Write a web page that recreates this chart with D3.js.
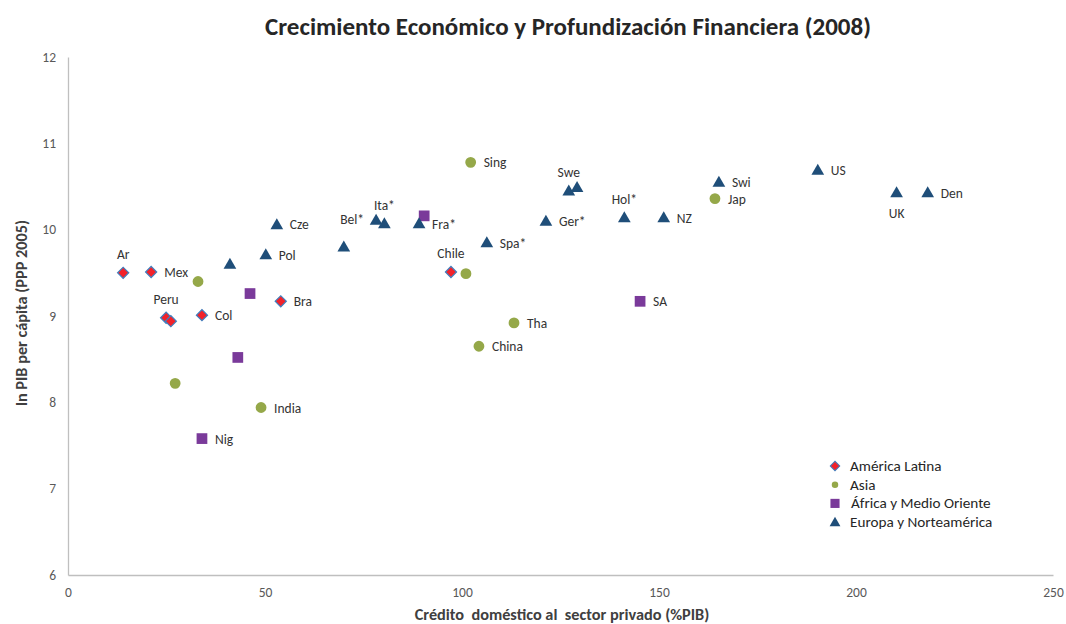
<!DOCTYPE html>
<html lang="es">
<head>
<meta charset="utf-8">
<title>Crecimiento Económico y Profundización Financiera (2008)</title>
<script src="https://cdn.jsdelivr.net/npm/d3@7/dist/d3.min.js"></script>
<style>
  body { margin: 0; background: #fff; }
  svg { font-family: Carlito, Lato, "Open Sans", sans-serif; }
</style>
</head>
<body>
<svg id="chart" width="1066" height="624"></svg>
<script>
// credito domestico al sector privado (%PIB) vs ln PIB per capita
let latam_names = ['Ar', 'Mex', 'Peru', '', 'Col', 'Bra', 'Chile'];
let latam_x = [14.0, 21.1, 24.9, 26.1, 34.0, 54.0, 97.2];
let latam_y = [9.50, 9.51, 8.98, 8.94, 9.01, 9.17, 9.51];

let asia_names = ['', '', 'India', 'Sing', '', 'Tha', 'China', 'Jap'];
let asia_x = [33.0, 27.2, 49.0, 102.2, 101.0, 113.2, 104.3, 164.2];
let asia_y = [9.40, 8.22, 7.94, 10.78, 9.49, 8.92, 8.65, 10.36];

let africa_names = ['', '', 'Nig', '', 'SA'];
let africa_x = [46.2, 43.1, 34.0, 90.4, 145.2];
let africa_y = [9.26, 8.52, 7.58, 10.16, 9.17];

let europe_names = ['Cze', '', 'Pol', '', 'Bel*', 'Ita*', 'Fra*', 'Spa*', 'Ger*', 'Swe', '', 'Hol*', 'NZ', 'Swi', 'US', 'UK', 'Den'];
let europe_x = [53.0, 41.1, 50.2, 70.0, 78.2, 80.3, 89.1, 106.3, 121.3, 127.1, 129.2, 141.2, 151.2, 165.2, 190.3, 210.3, 218.2];
let europe_y = [10.06, 9.60, 9.71, 9.80, 10.11, 10.07, 10.07, 9.85, 10.10, 10.45, 10.49, 10.14, 10.14, 10.55, 10.69, 10.43, 10.43];

let series_names = ['América Latina', 'Asia', 'África y Medio Oriente', 'Europa y Norteamérica'];
let x_ticks = [0, 50, 100, 150, 200, 250];
let y_ticks = [6, 7, 8, 9, 10, 11, 12];

// where the country label sits relative to its marker
let label_side = { 'Ar': 'top', 'Peru': 'top', 'Chile': 'top', 'Ita*': 'top', 'Swe': 'top', 'Hol*': 'top', 'Bel*': 'left', 'UK': 'bottom' };

let series = [
    { name: series_names[0], names: latam_names, xs: latam_x, ys: latam_y, shape: 'diamond', fill: '#f2222a', stroke: '#3f7fbf' },
    { name: series_names[1], names: asia_names, xs: asia_x, ys: asia_y, shape: 'circle', fill: '#95a849', stroke: 'none' },
    { name: series_names[2], names: africa_names, xs: africa_x, ys: africa_y, shape: 'square', fill: '#7a3a9a', stroke: 'none' },
    { name: series_names[3], names: europe_names, xs: europe_x, ys: europe_y, shape: 'triangle', fill: '#1f4e79', stroke: 'none' }
];

let svg = d3.select('#chart');
let m_left = 68, m_right = 1053, m_top = 57, m_bottom = 575;

let x = d3.scaleLinear().domain([0, 250]).range([m_left, m_right]);
let y = d3.scaleLinear().domain([6, 12]).range([m_bottom, m_top]);

function symbol_path(shape){
    if(shape === 'diamond') return d3.symbol(d3.symbolSquare, 62)();
    if(shape === 'circle') return d3.symbol(d3.symbolCircle, 92)();
    if(shape === 'square') return d3.symbol(d3.symbolSquare, 115)();
    return d3.symbol(d3.symbolTriangle, 70)();
}
function symbol_transform(shape, px, py){
    if(shape === 'diamond') return `translate(${px},${py}) rotate(45)`;
    if(shape === 'triangle') return `translate(${px},${py + 1})`;
    return `translate(${px},${py})`;
}

// title
svg.append('text')
    .attr('x', 568).attr('y', 35)
    .attr('text-anchor', 'middle')
    .attr('font-size', 25).attr('font-weight', 'bold')
    .attr('fill', '#262626')
    .text('Crecimiento Económico y Profundización Financiera (2008)');

// axes
let xAxis = svg.append('g')
    .attr('transform', `translate(0,${m_bottom})`)
    .call(d3.axisBottom(x).tickValues(x_ticks).tickFormat(d3.format('d')).tickSize(0).tickPadding(12));
let yAxis = svg.append('g')
    .attr('transform', `translate(${m_left},0)`)
    .call(d3.axisLeft(y).tickValues(y_ticks).tickFormat(d3.format('d')).tickSize(0).tickPadding(12));

[xAxis, yAxis].forEach(a => {
    a.select('.domain').attr('stroke', '#bfbfbf').attr('stroke-width', 1.3);
    a.selectAll('text').attr('font-size', 13.5).attr('fill', '#595959');
    a.attr('font-family', null);
});

svg.append('text')
    .attr('x', 562).attr('y', 620)
    .attr('text-anchor', 'middle')
    .attr('font-size', 16.3).attr('font-weight', 'bold').attr('fill', '#404040')
    .style('white-space', 'pre')
    .text('Crédito  doméstico al  sector privado (%PIB)');

svg.append('text')
    .attr('transform', 'translate(27,313) rotate(-90)')
    .attr('text-anchor', 'middle')
    .attr('font-size', 16.3).attr('font-weight', 'bold').attr('fill', '#404040')
    .text('ln PIB per cápita (PPP 2005)');

// points
let plot = svg.append('g');
series.forEach(s => {
    let pts = s.xs.map((v, i) => ({ x: v, y: s.ys[i], name: s.names[i] }));
    plot.selectAll(null)
        .data(pts)
        .enter().append('path')
        .attr('d', symbol_path(s.shape))
        .attr('transform', d => symbol_transform(s.shape, x(d.x), y(d.y)))
        .attr('fill', s.fill)
        .attr('stroke', s.stroke)
        .attr('stroke-width', 1.2);
});

// labels
let labels = svg.append('g')
    .attr('font-size', 13.5).attr('fill', '#333');
series.forEach(s => {
    s.names.forEach((n, i) => {
        if(!n) return;
        let px = x(s.xs[i]), py = y(s.ys[i]);
        let side = label_side[n] || 'right';
        let t = labels.append('text').text(n);
        if(side === 'right'){
            t.attr('x', px + 13).attr('y', py + 5);
        } else if(side === 'left'){
            t.attr('x', px - 12).attr('y', py + 4).attr('text-anchor', 'end');
        } else if(side === 'top'){
            t.attr('x', px).attr('y', py - 14).attr('text-anchor', 'middle');
        } else {
            t.attr('x', px).attr('y', py + 25).attr('text-anchor', 'middle');
        }
    });
});

// legend
let legend = svg.append('g').attr('transform', 'translate(835,466)');
series.forEach((s, i) => {
    let g = legend.append('g').attr('transform', `translate(0,${i * 18.7})`);
    let scale = s.shape === 'circle' ? 0.6 : 0.85;
    g.append('path')
        .attr('d', symbol_path(s.shape))
        .attr('transform', symbol_transform(s.shape, 0, 0) + ` scale(${scale})`)
        .attr('fill', s.fill)
        .attr('stroke', s.stroke)
        .attr('stroke-width', 1.2);
    g.append('text')
        .attr('x', s.shape === 'square' ? 16 : 15).attr('y', 5)
        .attr('font-size', 15.2).attr('fill', '#262626')
        .text(s.name);
});
</script>
</body>
</html>
